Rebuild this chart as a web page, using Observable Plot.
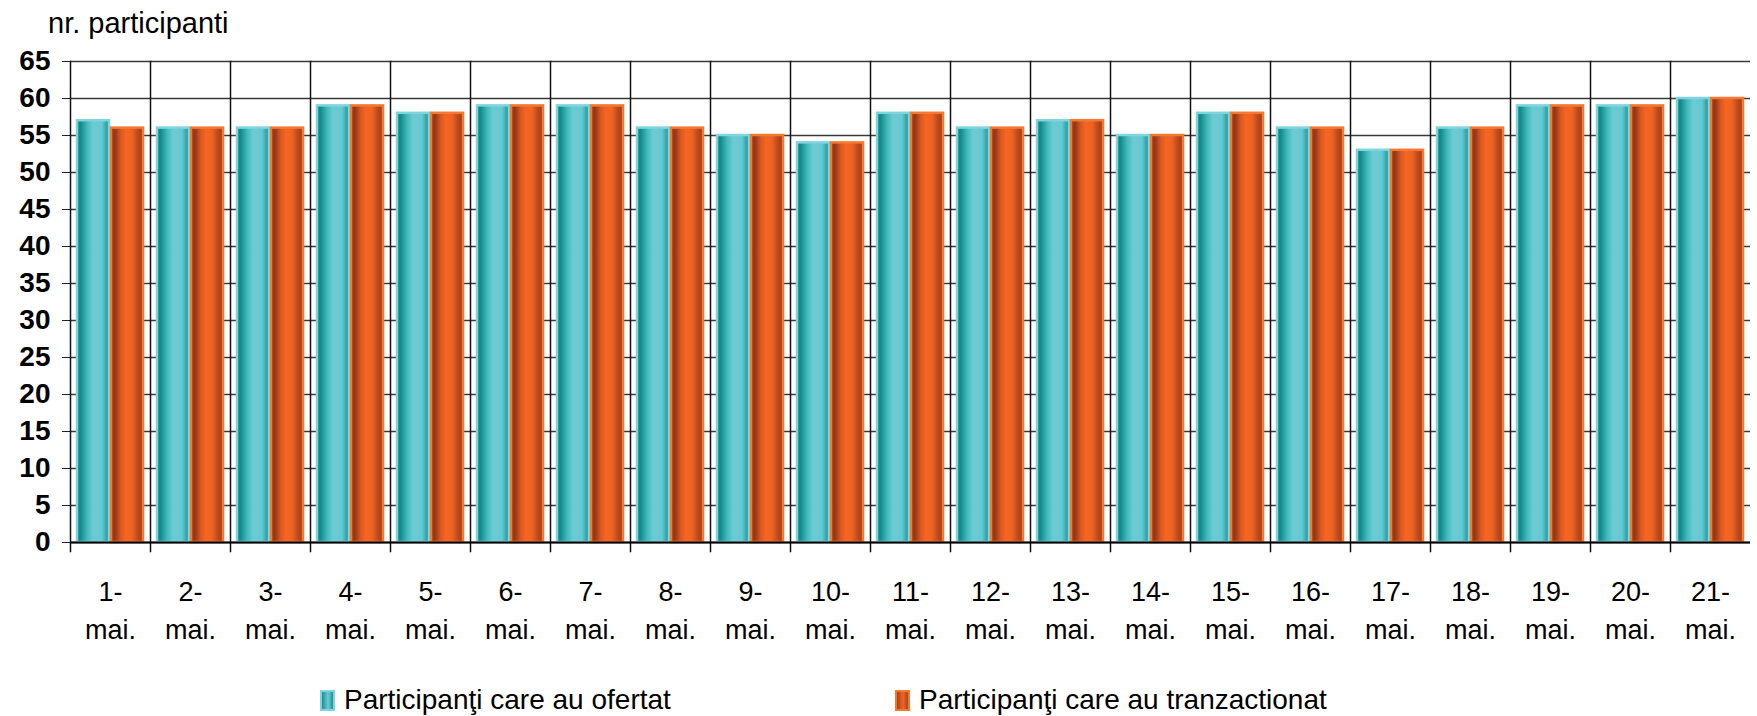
<!DOCTYPE html>
<html>
<head>
<meta charset="utf-8">
<script src="https://cdn.jsdelivr.net/npm/d3@7"></script>
<script src="https://cdn.jsdelivr.net/npm/@observablehq/plot@0.6"></script>
<style>
  body { margin: 0; background: #fff; font-family: "Liberation Sans", Arial, sans-serif; }
  #title { font-size: 29px; height: 44px; line-height: 40px; padding: 3px 0 0 48px; box-sizing: border-box; color: #000; }
  #legend { position: relative; height: 36px; padding-top: 2px; font-size: 28px; line-height: 36px; color: #000; }
  .item { position: absolute; top: 2px; display: flex; align-items: center; white-space: nowrap; }
  .item svg { margin-right: 9px; }
</style>
</head>
<body>
<div id="title">nr. participanti</div>
<div id="chart"></div>
<div id="legend"></div>
<script>
const days = ["1-mai.","2-mai.","3-mai.","4-mai.","5-mai.","6-mai.","7-mai.","8-mai.","9-mai.","10-mai.","11-mai.","12-mai.","13-mai.","14-mai.","15-mai.","16-mai.","17-mai.","18-mai.","19-mai.","20-mai.","21-mai."];
const seriesNames = ["Participanţi care au ofertat", "Participanţi care au tranzactionat"];
const ofertat =       [57,56,56,59,58,59,59,56,55,54,58,56,57,55,58,56,53,56,59,59,60];
const tranzactionat = [56,56,56,59,58,59,59,56,55,54,58,56,57,55,58,56,53,56,59,59,60];
const yTicks = [0,5,10,15,20,25,30,35,40,45,50,55,60,65];

const rowsA = days.map((d, i) => ({day: d, series: seriesNames[0], value: ofertat[i]}));
const rowsB = days.map((d, i) => ({day: d, series: seriesNames[1], value: tranzactionat[i]}));

const chart = Plot.plot({
  width: 1757,
  height: 636,
  marginTop: 17,
  marginLeft: 63,
  marginRight: 0,
  marginBottom: 138,
  style: {fontFamily: "'Liberation Sans', Arial, sans-serif", background: "white", color: "black"},
  fx: {domain: days, padding: 0, label: null},
  x: {domain: seriesNames, paddingInner: 0, paddingOuter: 0.17, axis: null},
  y: {domain: [0, 65], label: null},
  marks: [
    Plot.gridY({ticks: yTicks, stroke: "#3a3a3a", strokeOpacity: 1, strokeWidth: 1.6}),
    Plot.frame({anchor: "left", stroke: "#111", strokeWidth: 1.5, insetBottom: -9}),
    Plot.barY(rowsA, {fx: "day", x: "series", y: "value", fill: "url(#gTeal)", stroke: "#7fd4de", strokeWidth: 2.5, insetLeft: 1, insetRight: 1}),
    Plot.barY(rowsB, {fx: "day", x: "series", y: "value", fill: "url(#gOrange)", stroke: "#f47a34", strokeWidth: 2.5, insetLeft: 1, insetRight: 1}),
    Plot.ruleY([0], {stroke: "black", strokeWidth: 2}),
    Plot.axisY({ticks: yTicks, tickSize: 8, tickPadding: 12, fontSize: 28, fontWeight: "bold", label: null, stroke: "#222"}),
    Plot.axisFx({anchor: "bottom", tickSize: 0, tickPadding: 31, fontSize: 27, lineHeight: 1.41, label: null,
      tickFormat: d => d.replace("-", "-\n")})
  ]
});

const defs = `
<linearGradient id="gTeal" x1="0" x2="1" y1="0" y2="0">
  <stop offset="0" stop-color="#0f8483"/>
  <stop offset="0.12" stop-color="#138d8c"/>
  <stop offset="0.3" stop-color="#3fb6b9"/>
  <stop offset="0.5" stop-color="#6ccbd4"/>
  <stop offset="0.78" stop-color="#66c8d2"/>
  <stop offset="0.92" stop-color="#2ea6a9"/>
  <stop offset="1" stop-color="#179594"/>
</linearGradient>
<linearGradient id="gOrange" x1="0" x2="1" y1="0" y2="0">
  <stop offset="0" stop-color="#a8401a"/>
  <stop offset="0.12" stop-color="#8e381a"/>
  <stop offset="0.3" stop-color="#d9571f"/>
  <stop offset="0.45" stop-color="#f26522"/>
  <stop offset="0.65" stop-color="#f06322"/>
  <stop offset="0.85" stop-color="#b84a1d"/>
  <stop offset="1" stop-color="#9a3d19"/>
</linearGradient>`;
const d = document.createElementNS("http://www.w3.org/2000/svg", "defs");
d.innerHTML = defs;
chart.insertBefore(d, chart.firstChild);
document.getElementById("chart").appendChild(chart);

// legend
const legend = document.getElementById("legend");
const legendItems = [
  {label: seriesNames[0], grad: "lgTeal", stroke: "#7fd4de", left: 320, c: ["#0f8483", "#6ccbd4"]},
  {label: seriesNames[1], grad: "lgOrange", stroke: "#f47a34", left: 895, c: ["#9a3d19", "#f26522"]}
];
legendItems.forEach(it => {
  const div = document.createElement("div");
  div.className = "item";
  div.style.left = it.left + "px";
  div.innerHTML = `<svg width="15" height="22"><defs><linearGradient id="${it.grad}" x1="0" x2="1"><stop offset="0" stop-color="${it.c[0]}"/><stop offset="0.55" stop-color="${it.c[1]}"/><stop offset="1" stop-color="${it.c[0]}"/></linearGradient></defs><rect x="1" y="2" width="13" height="19" fill="url(#${it.grad})" stroke="${it.stroke}" stroke-width="2"/></svg><span>${it.label}</span>`;
  legend.appendChild(div);
});
</script>
</body>
</html>
